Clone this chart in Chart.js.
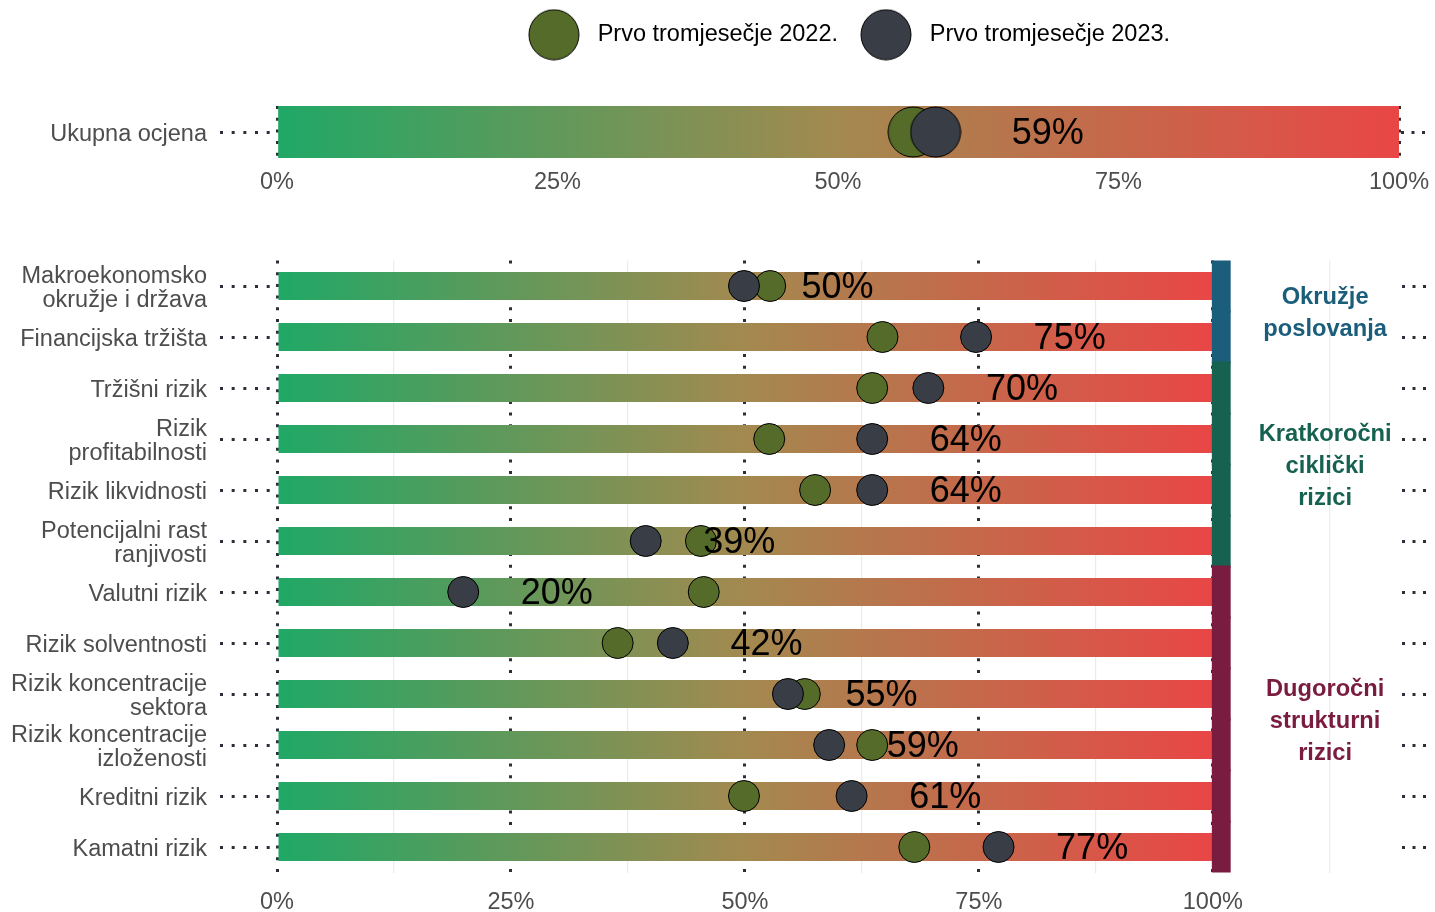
<!DOCTYPE html>
<html>
<head>
<meta charset="utf-8">
<script src="https://cdn.jsdelivr.net/npm/chart.js@4.4.0/dist/chart.umd.min.js"></script>
<style>
  body { margin: 0; background: #fff; }
  #top { position: absolute; left: 0; top: 0; }
  #bottom { position: absolute; left: 0; top: 200px; }
</style>
</head>
<body>
<canvas id="top" width="1435" height="200"></canvas>
<canvas id="bottom" width="1435" height="712"></canvas>
<script>
// data
const seriesNames = ['Prvo tromjesečje 2022.', 'Prvo tromjesečje 2023.'];
const totalLabel = ['Ukupna ocjena'];
const total2022 = [56.7];
const total2023 = [58.7];

const categories = [
  ['Makroekonomsko', 'okružje i država'],
  'Financijska tržišta',
  'Tržišni rizik',
  ['Rizik', 'profitabilnosti'],
  'Rizik likvidnosti',
  ['Potencijalni rast', 'ranjivosti'],
  'Valutni rizik',
  'Rizik solventnosti',
  ['Rizik koncentracije', 'sektora'],
  ['Rizik koncentracije', 'izloženosti'],
  'Kreditni rizik',
  'Kamatni rizik'
];
const q2022 = [52.7, 64.7, 63.6, 52.6, 57.5, 45.3, 45.6, 36.4, 56.4, 63.6, 49.9, 68.1];
const q2023 = [49.9, 74.7, 69.6, 63.6, 63.6, 39.4, 19.9, 42.3, 54.6, 59.0, 61.4, 77.1];

const groupNames = [['Okružje', 'poslovanja'], ['Kratkoročni', 'ciklički', 'rizici'], ['Dugoročni', 'strukturni', 'rizici']];
const rowGroup = [0, 0, 1, 1, 1, 1, 2, 2, 2, 2, 2, 2];
const xTicks = [0, 25, 50, 75, 100];
const xMinorTicks = [12.5, 37.5, 62.5, 87.5, 112.5];

const groupColors = ['#1b5e7b', '#16614f', '#7a1c40'];
const green = '#546b29';
const dark = '#383d46';
const dotLine = '#2b2f3a';
const axisText = '#4d4d4d';

Chart.defaults.font.family = '"Liberation Sans", Arial, sans-serif';
Chart.defaults.animation = false;

function barGradient(context) {
  const chart = context.chart;
  if (!chart.chartArea) return '#999';
  const x = chart.scales.x;
  const g = chart.ctx.createLinearGradient(x.getPixelForValue(0), 0, x.getPixelForValue(100), 0);
  g.addColorStop(0, '#20a866');
  g.addColorStop(0.5, '#a3894f');
  g.addColorStop(1, '#e94646');
  return g;
}

function dotImage(color, r) {
  const c = document.createElement('canvas');
  c.width = c.height = 2 * r + 2;
  const g = c.getContext('2d');
  g.beginPath();
  g.arc(r + 1, r + 1, r, 0, Math.PI * 2);
  g.fillStyle = color;
  g.fill();
  g.lineWidth = 1;
  g.strokeStyle = '#000';
  g.stroke();
  return c;
}

const valueLabels = (values) => ({
  id: 'valueLabels',
  afterDatasetsDraw(chart) {
    const {ctx, scales: {x, y}} = chart;
    ctx.save();
    ctx.font = '36px "Liberation Sans", Arial, sans-serif';
    ctx.fillStyle = '#000';
    ctx.textAlign = 'center';
    ctx.textBaseline = 'middle';
    values.forEach((v, i) => {
      ctx.fillText(Math.round(v) + '%', x.getPixelForValue(v + 10), y.getPixelForValue(i) + 2.5);
    });
    ctx.restore();
  }
});

const groupLabels = {
  id: 'groupLabels',
  afterDraw(chart) {
    const {ctx, scales: {x, y}} = chart;
    ctx.save();
    ctx.font = 'bold 23.7px "Liberation Sans", Arial, sans-serif';
    ctx.textAlign = 'center';
    ctx.textBaseline = 'middle';
    groupNames.forEach((lines, g) => {
      const rows = rowGroup.map((r, i) => r === g ? i : -1).filter(i => i >= 0);
      const yc = (y.getPixelForValue(rows[0]) + y.getPixelForValue(rows[rows.length - 1])) / 2 + 2;
      ctx.fillStyle = groupColors[g];
      lines.forEach((t, k) => {
        ctx.fillText(t, x.getPixelForValue(112), yc + (k - (lines.length - 1) / 2) * 32);
      });
    });
    ctx.restore();
  }
};

// legend dots are bigger than the legend row, give the box some room and nudge it right
const legendRoom = {
  id: 'legendRoom',
  afterLayout(chart) {
    const lg = chart.legend;
    lg.left += 8;
    lg.right += 8;
    lg.bottom = lg.top + 70;
  }
};

const dottedTicks = (len, dash, offset) => ({
  offset: false,
  drawOnChartArea: false,
  tickLength: len,
  tickWidth: 3,
  tickColor: dotLine,
  tickBorderDash: dash,
  tickBorderDashOffset: offset || 0
});

const xMajor = (max, height, pad) => ({
  type: 'linear',
  min: 0,
  max: max,
  afterBuildTicks: ax => { ax.ticks = xTicks.map(v => ({value: v})); },
  afterFit: ax => { ax.height = height; ax.paddingRight = 0; ax.paddingLeft = 0; },
  grid: { color: dotLine, lineWidth: 3, drawTicks: false },
  border: { display: false, dash: [3, 8.7] },
  ticks: { padding: pad, color: axisText, font: { size: 23.5 }, callback: v => v + '%' }
});

const yLeft = () => ({
  type: 'category', position: 'left', offset: true,
  grid: dottedTicks(57, [3, 8.67]),
  border: { display: false },
  ticks: { padding: 13, color: axisText, font: { size: 23.5, lineHeight: 1.02 }, autoSkip: false, labelOffset: 2.5 },
  afterFit: ax => { ax.width = 277; }
});

const yRight = (w) => ({
  type: 'category', position: 'right', offset: true,
  grid: dottedTicks(31, [3, 7.5], 8.5),
  border: { display: false },
  ticks: { callback: () => '', autoSkip: false },
  afterFit: ax => { ax.width = w; }
});

// top panel: overall score + legend
const dot2022 = dotImage(green, 25);
const dot2023 = dotImage(dark, 25);

new Chart(document.getElementById('top'), {
  type: 'bar',
  data: {
    labels: totalLabel,
    datasets: [
      { label: 'bar', data: totalLabel.map(() => [0, 100]), backgroundColor: barGradient,
        barPercentage: 1, categoryPercentage: 1, grouped: false, order: 10, xAxisID: 'x', yAxisID: 'y' },
      { type: 'line', label: seriesNames[0], data: total2022, showLine: false, pointStyle: dot2022,
        order: 2, xAxisID: 'x', yAxisID: 'y' },
      { type: 'line', label: seriesNames[1], data: total2023, showLine: false, pointStyle: dot2023,
        order: 1, xAxisID: 'x', yAxisID: 'y' }
    ]
  },
  options: {
    responsive: false,
    indexAxis: 'y',
    events: [],
    layout: { padding: { top: 7, left: 0, right: 0, bottom: 0 } },
    plugins: {
      legend: {
        position: 'top',
        fullSize: false,
        labels: {
          usePointStyle: true,
          pointStyleWidth: 64,
          padding: 16,
          color: '#000',
          font: { size: 23.5 },
          filter: item => item.datasetIndex > 0,
          sort: (a, b) => a.datasetIndex - b.datasetIndex
        }
      },
      tooltip: { enabled: false }
    },
    scales: {
      x: xMajor(100, 42, 10.5),
      xTop: {
        type: 'linear', position: 'top', min: 0, max: 100,
        grid: { display: false }, border: { display: false }, ticks: { display: false },
        afterFit: ax => { ax.height = 49.5; }
      },
      y: yLeft(),
      yR: yRight(36)
    }
  },
  plugins: [valueLabels(total2023), legendRoom]
});

// bottom panel: components
new Chart(document.getElementById('bottom'), {
  type: 'bar',
  data: {
    labels: categories,
    datasets: [
      { label: 'bar', data: categories.map(() => [0, 100]), backgroundColor: barGradient,
        barPercentage: 0.55, categoryPercentage: 1, grouped: false, order: 10, xAxisID: 'x', yAxisID: 'y' },
      { label: 'group', data: rowGroup.map(() => [100, 101.8]), backgroundColor: rowGroup.map(g => groupColors[g]),
        barPercentage: 1, categoryPercentage: 1, grouped: false, inflateAmount: 1, order: 9, xAxisID: 'x', yAxisID: 'y' },
      { type: 'line', label: seriesNames[0], data: q2022, showLine: false, pointRadius: 15.5,
        pointBackgroundColor: green, pointBorderColor: '#000', pointBorderWidth: 1,
        order: 2, xAxisID: 'x', yAxisID: 'y' },
      { type: 'line', label: seriesNames[1], data: q2023, showLine: false, pointRadius: 15.5,
        pointBackgroundColor: dark, pointBorderColor: '#000', pointBorderWidth: 1,
        order: 1, xAxisID: 'x', yAxisID: 'y' }
    ]
  },
  options: {
    responsive: false,
    indexAxis: 'y',
    events: [],
    layout: { padding: { top: 60.5, left: 0, right: 0, bottom: 0 } },
    plugins: { legend: { display: false }, tooltip: { enabled: false } },
    scales: {
      x: xMajor(120, 39.5, 16),
      x2: {
        type: 'linear', position: 'bottom', min: 0, max: 120,
        afterBuildTicks: ax => { ax.ticks = xMinorTicks.map(v => ({value: v})); },
        afterFit: ax => { ax.height = 0; },
        grid: { color: '#ebebeb', lineWidth: 1.2, drawTicks: false },
        border: { display: false },
        ticks: { display: false }
      },
      y: yLeft(),
      yR: yRight(35)
    }
  },
  plugins: [valueLabels(q2023), groupLabels]
});
</script>
</body>
</html>
